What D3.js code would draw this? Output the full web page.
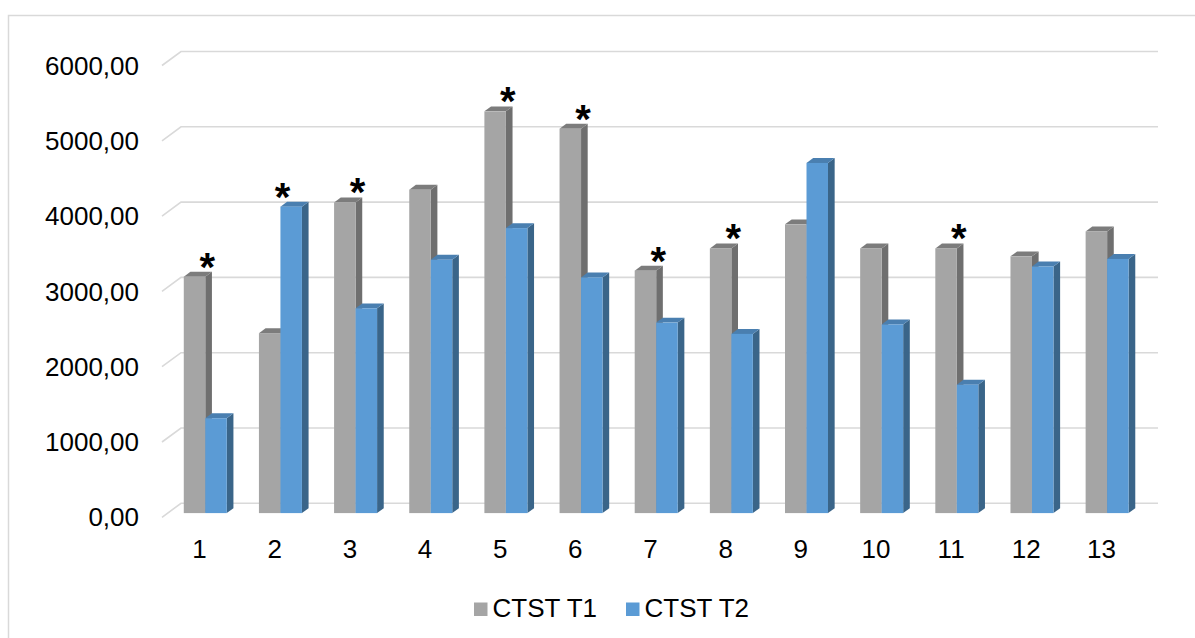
<!DOCTYPE html>
<html>
<head>
<meta charset="utf-8">
<script src="https://cdn.jsdelivr.net/npm/d3@7"></script>
<style>
  body { margin: 0; background: #fff; }
  svg { display: block; font-family: "Liberation Sans", Arial, sans-serif; }
</style>
</head>
<body>
<div id="chart"></div>
<script>
const categories = ["1", "2", "3", "4", "5", "6", "7", "8", "9", "10", "11", "12", "13"];
const seriesNames = ["CTST T1", "CTST T2"];
const t1 = [3140, 2390, 4125, 4295, 5335, 5105, 3220, 3515, 3835, 3515, 3515, 3410, 3740];
const t2 = [1260, 4070, 2720, 3365, 3785, 3130, 2530, 2380, 4650, 2505, 1705, 3275, 3375];
const starred = ["1", "2", "3", "5", "6", "7", "8", "11"];
const yTicks = [0, 1000, 2000, 3000, 4000, 5000, 6000];

const width = 1195, height = 638;
const colors = {
    "CTST T1": { front: "#a5a5a5", side: "#6f6f6f", top: "#7c7c7c" },
    "CTST T2": { front: "#5b9bd5", side: "#3a6589", top: "#4a7fb0" }
};

const svg = d3.select("#chart").append("svg")
    .attr("width", width)
    .attr("height", height);

// outer chart border
svg.append("rect")
    .attr("x", 8.5).attr("y", 15.5)
    .attr("width", 1200).attr("height", 640)
    .attr("fill", "none")
    .attr("stroke", "#d9d9d9")
    .attr("stroke-width", 1.5);

// back wall scales; depth vector points from back wall to front edge of floor
const x = d3.scaleBand().domain(categories).range([181, 1158]);
const y = d3.scaleLinear().domain([0, 6000]).range([503.3, 51.5]);
const depth = [-19, 14];
const barFront = 0.7, barBack = 0.35;
const inner = d3.scaleBand().domain(seriesNames).range([0, 43]);
const groupOffset = (x.bandwidth() - inner.range()[1]) / 2;

const fmt = v => d3.format(".2f")(v).replace(".", ",");

// gridlines
const grid = svg.append("g");
yTicks.forEach(v => {
    const yy = y(v);
    grid.append("path")
        .attr("d", `M${181 + depth[0]},${yy + depth[1]}L181,${yy}L1158,${yy}`)
        .attr("fill", "none")
        .attr("stroke", "#d9d9d9")
        .attr("stroke-width", 1.6);
});

// y labels
svg.append("g").selectAll("text")
    .data(yTicks)
    .join("text")
    .attr("x", 139)
    .attr("y", d => y(d) + depth[1])
    .attr("dy", "0.35em")
    .attr("text-anchor", "end")
    .attr("font-size", 26)
    .attr("fill", "#000")
    .text(fmt);

// x labels along the front edge of the floor
svg.append("g").selectAll("text")
    .data(categories)
    .join("text")
    .attr("x", d => x(d) + x.bandwidth() / 2 + depth[0])
    .attr("y", 558)
    .attr("text-anchor", "middle")
    .attr("font-size", 26)
    .attr("fill", "#000")
    .text(d => d);

// 3D bars
const bars = [];
categories.forEach((c, i) => {
    seriesNames.forEach((s, j) => {
        bars.push({ cat: c, series: s, value: j === 0 ? t1[i] : t2[i] });
    });
});

const fx = barFront * depth[0], fy = barFront * depth[1];
const bx = barBack * depth[0], by = barBack * depth[1];
const dx = bx - fx, dy = by - fy;

const barG = svg.append("g");
bars.forEach(b => {
    const x0 = x(b.cat) + groupOffset + inner(b.series) + fx;
    const x1 = x0 + inner.bandwidth();
    const y0 = y(0) + fy;
    const y1 = y(b.value) + fy;
    const col = colors[b.series];
    const g = barG.append("g");
    g.append("path")
        .attr("d", `M${x1},${y1}L${x1 + dx},${y1 + dy}L${x1 + dx},${y0 + dy}L${x1},${y0}Z`)
        .attr("fill", col.side);
    g.append("path")
        .attr("d", `M${x0},${y1}L${x0 + dx},${y1 + dy}L${x1 + dx},${y1 + dy}L${x1},${y1}Z`)
        .attr("fill", col.top);
    g.append("rect")
        .attr("x", x0).attr("y", y1)
        .attr("width", inner.bandwidth())
        .attr("height", y0 - y1)
        .attr("fill", col.front);
});

// significance marks
svg.append("g").selectAll("text")
    .data(starred)
    .join("text")
    .attr("x", d => x(d) + x.bandwidth() / 2 + fx + 2)
    .attr("y", d => {
        const i = categories.indexOf(d);
        return y(Math.max(t1[i], t2[i])) + fy + 4;
    })
    .attr("text-anchor", "middle")
    .attr("font-size", 40)
    .attr("font-weight", "bold")
    .attr("fill", "#000")
    .text("*");

// legend
const legend = svg.append("g");
const legendX = [474, 626];
seriesNames.forEach((s, i) => {
    legend.append("rect")
        .attr("x", legendX[i]).attr("y", 602.5)
        .attr("width", 13.5).attr("height", 13.5)
        .attr("fill", colors[s].front);
    legend.append("text")
        .attr("x", legendX[i] + 18.5)
        .attr("y", 617)
        .attr("font-size", 26)
        .attr("fill", "#000")
        .text(s);
});
</script>
</body>
</html>
